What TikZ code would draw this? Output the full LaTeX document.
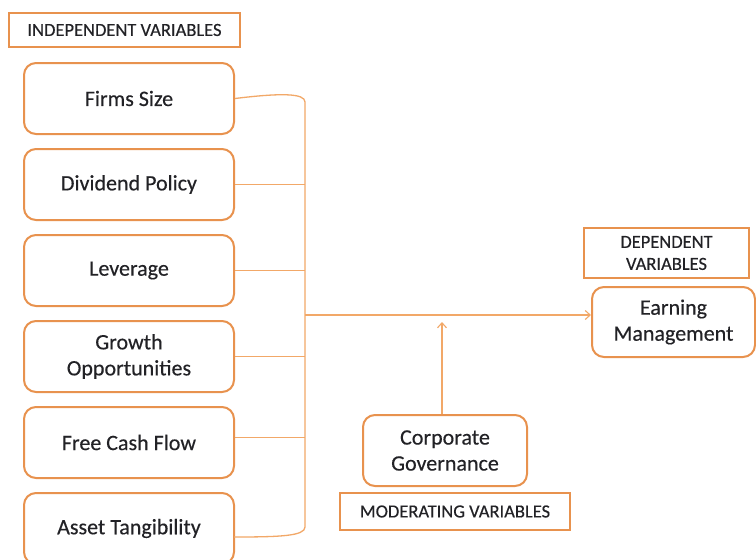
\documentclass[tikz,border=0pt]{standalone}
\usepackage{fontspec}
\setmainfont{Carlito}[FakeBold=0.35]
\usetikzlibrary{arrows.meta,calc}
\definecolor{boxc}{RGB}{232,146,78}
\definecolor{linec}{RGB}{242,168,104}
\definecolor{txt}{RGB}{34,34,38}
\begin{document}
\begin{tikzpicture}[x=1pt,y=-1pt,
  varbox/.style={draw=boxc,line width=2pt,rounded corners=12pt,fill=white,
    minimum width=210pt,minimum height=71pt,align=center,text=txt,
    font=\fontsize{22}{26}\selectfont,inner sep=0pt},
  tagbox/.style={draw=boxc,line width=2pt,fill=white,align=center,text=txt,
    font=\fontsize{18.5}{22}\selectfont,inner sep=0pt},
  link/.style={draw=linec,line width=1.3pt},
  flow/.style={link,-{Straight Barb[length=5pt,width=9pt,line width=1.1pt]}}]
\useasboundingbox (0,0) rectangle (756,560);
\fill[white] (0,0) rectangle (756,560);

% independent variables
\node[tagbox,minimum width=231pt,minimum height=34pt] (indep) at (124.5,30) {INDEPENDENT VARIABLES};
\node[varbox] (fs)  at (129,98.5)  {Firms Size};
\node[varbox] (dp)  at (129,184.5) {Dividend Policy};
\node[varbox] (lev) at (129,270.5) {Leverage};
\node[varbox] (go)  at (129,356.5) {Growth\\Opportunities};
\node[varbox] (fcf) at (129,442.5) {Free Cash Flow};
\node[varbox] (at)  at (129,528.5) {Asset Tangibility};

% dependent variable
\node[tagbox,minimum width=165pt,minimum height=50pt] (dep) at (666.5,253) {DEPENDENT\\VARIABLES};
\node[varbox,minimum width=163pt,minimum height=70pt] (em) at (673.5,322) {Earning\\Management};

% moderating variable
\node[varbox,minimum width=164pt,minimum height=71pt] (cg) at (445,450.5) {Corporate\\Governance};
\node[tagbox,minimum width=230pt,minimum height=37pt] (mod) at (455,511.5) {MODERATING VARIABLES};

% bracket joining the independent variables
\coordinate (bartop) at (305,96);
\coordinate (barbot) at (305,533);
\coordinate (atjoin) at (234,537);
\coordinate (hub) at (305,315);
\coordinate (mod-in) at (442,322);
\draw[link] (fs.east) .. controls (280,93) and (305,93) .. ($(bartop)+(0,6)$) -- ($(barbot)+(0,-6)$)
  .. controls (305,536) and (280,537) .. (atjoin);
\foreach \n in {dp,lev,go} \draw[link] (\n.east) -- (\n.east -| bartop);
\draw[link] ($(fcf.east)+(0,-5)$) -- ($(fcf.east -| bartop)+(0,-5)$);

% main effect and moderation
\draw[flow] (hub) -- (hub -| em.west);
\draw[flow] (cg.north -| mod-in) -- (mod-in);
\end{tikzpicture}
\end{document}
